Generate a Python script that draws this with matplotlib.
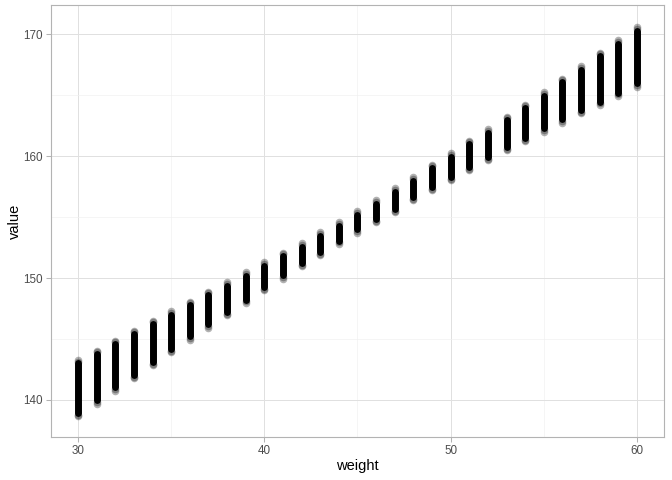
import numpy as np
import matplotlib
matplotlib.use('Agg')
import matplotlib.pyplot as plt

# one column of points per weight: lowest and highest point centre
weight = np.arange(30, 61)
value_lo = [138.65, 139.69, 140.76, 141.79, 142.84, 143.91, 144.95, 145.94, 146.95, 147.96,
            148.98, 149.96, 150.97, 151.88, 152.80, 153.71, 154.59, 155.41, 156.37, 157.19,
            158.04, 158.86, 159.68, 160.48, 161.24, 162.01, 162.75, 163.52, 164.20, 164.94,
            165.70]
value_hi = [143.27, 144.04, 144.86, 145.68, 146.51, 147.27, 148.07, 148.86, 149.65, 150.47,
            151.30, 152.09, 152.86, 153.74, 154.58, 155.46, 156.37, 157.35, 158.28, 159.29,
            160.25, 161.26, 162.22, 163.21, 164.20, 165.24, 166.33, 167.38, 168.47, 169.51,
            170.58]
x_ticks = [30, 40, 50, 60]
y_ticks = [140, 150, 160, 170]

plt.rcParams['font.family'] = ['Liberation Sans', 'DejaVu Sans']

fig = plt.figure(figsize=(6.72, 4.8), dpi=100)
ax = fig.add_axes([51/672, 1-437/480, 613/672, 432/480])

lo = np.array(value_lo)
hi = np.array(value_hi)
# faint outer points, then the dense black core
ax.scatter(weight, lo, s=30, color='black', alpha=0.3, lw=0, zorder=3)
ax.scatter(weight, hi, s=30, color='black', alpha=0.3, lw=0, zorder=3)
ax.scatter(weight, lo + 0.12, s=30, color='black', alpha=0.3, lw=0, zorder=3)
ax.scatter(weight, hi - 0.12, s=30, color='black', alpha=0.3, lw=0, zorder=3)
for w, a, b in zip(weight, lo, hi):
    ax.plot([w, w], [a + 0.28, b - 0.28], color='black', lw=5.0,
            solid_capstyle='round', zorder=4)

ax.set_xlim(28.55, 61.45)
ax.set_ylim(136.96, 172.4)
ax.set_xticks(x_ticks)
ax.set_yticks(y_ticks)
ax.set_xticks([35, 45, 55], minor=True)
ax.set_yticks([145, 155, 165], minor=True)
ax.grid(which='major', color='#e0e0e0', lw=0.7)
ax.grid(which='minor', color='#f0f0f0', lw=0.45)
ax.set_axisbelow(True)
for s in ax.spines.values():
    s.set_color('#b3b3b3')
    s.set_linewidth(0.8)
ax.tick_params(which='major', length=3.5, width=0.75, color='#b3b3b3',
               labelcolor='#4d4d4d', labelsize=8.4, pad=2.5)
ax.tick_params(which='minor', length=0)
ax.set_xlabel('weight', fontsize=10.5, color='black', labelpad=1.5)
ax.set_ylabel('value', fontsize=10.5, color='black', labelpad=1)

fig.savefig('out.png', dpi=100)
